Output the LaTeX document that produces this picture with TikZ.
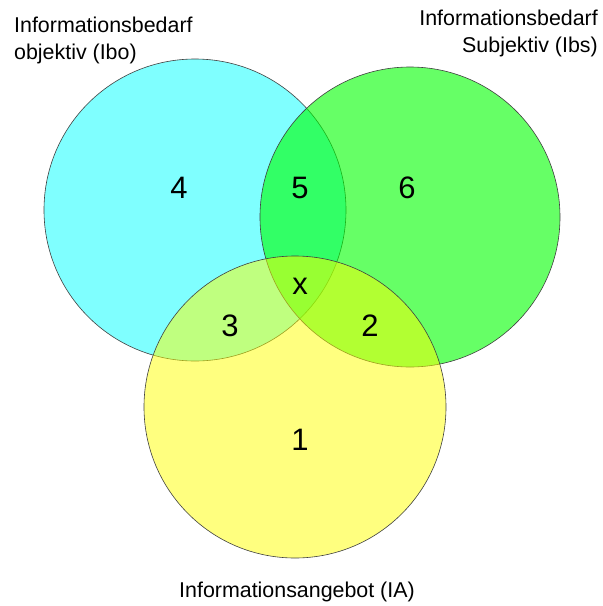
\documentclass[tikz,border=0pt]{standalone}
\usepackage{fontspec}
\setmainfont{Liberation Sans}
\usepackage{tikz}
\usetikzlibrary{calc}

\definecolor{iboCyan}{RGB}{0,255,255}
\definecolor{ibsGreen}{RGB}{0,255,0}
\definecolor{iaYellow}{RGB}{255,255,0}

\tikzset{
  ring/.style = {draw=black!75, line width=0.6pt},
  region/.style = {font=\fontsize{31}{31}\selectfont, inner sep=0pt},
  setlabel/.style = {font=\fontsize{21.4}{27}\selectfont, inner sep=0pt}
}

\begin{document}
\begin{tikzpicture}[x=1pt, y=-1pt]
            \useasboundingbox (0,0) rectangle (603,606);
            % circle centres
            \coordinate (Ibo) at (195,210);
            \coordinate (Ibs) at (410,217);
            \coordinate (IA) at (295,407);
            \fill[white] (0,0) rectangle (603,606);
            \draw[ring, fill=iboCyan, fill opacity=0.5] (Ibo) circle[radius=151pt];
            \draw[ring, fill=ibsGreen, fill opacity=0.6] (Ibs) circle[radius=150pt];
            \draw[ring, fill=iaYellow, fill opacity=0.5] (IA) circle[radius=151pt];
            % regions
            \node[region] (r4) at (179,188) {4};
            \node[region] (r5) at (300,188) {5};
            \node[region] (r6) at (407,188) {6};
            \node[region] (rx) at (300,286) {x};
            \node[region] (r3) at (230,326) {3};
            \node[region] (r2) at (370,326) {2};
            \node[region] (r1) at (300,440) {1};
            % set names
            \node[setlabel, anchor=north west, align=left] (lbo) at (14,17) {Informationsbedarf\\objektiv (Ibo)};
            \node[setlabel, anchor=north east, align=right] (lbs) at (598,10) {Informationsbedarf\\Subjektiv (Ibs)};
            \node[setlabel] (lia) at (297,592) {Informationsangebot (IA)};
\end{tikzpicture}
\end{document}
